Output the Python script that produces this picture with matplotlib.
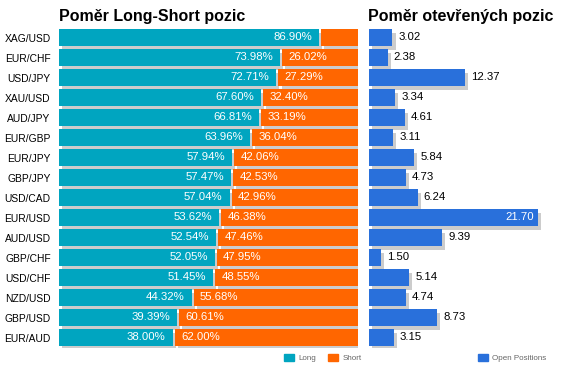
import matplotlib
matplotlib.use("Agg")
import matplotlib.pyplot as plt
import matplotlib.patheffects as pe
from matplotlib.patches import Patch
import numpy as np

plt.rcParams['font.family'] = ['Liberation Sans', 'DejaVu Sans']

# data
pairs = ['XAG/USD', 'EUR/CHF', 'USD/JPY', 'XAU/USD', 'AUD/JPY', 'EUR/GBP', 'EUR/JPY', 'GBP/JPY',
         'USD/CAD', 'EUR/USD', 'AUD/USD', 'GBP/CHF', 'USD/CHF', 'NZD/USD', 'GBP/USD', 'EUR/AUD']
long_pct = [86.90, 73.98, 72.71, 67.60, 66.81, 63.96, 57.94, 57.47,
            57.04, 53.62, 52.54, 52.05, 51.45, 44.32, 39.39, 38.00]
short_pct = [13.10, 26.02, 27.29, 32.40, 33.19, 36.04, 42.06, 42.53,
             42.96, 46.38, 47.46, 47.95, 48.55, 55.68, 60.61, 62.00]
open_pos = [3.02, 2.38, 12.37, 3.34, 4.61, 3.11, 5.84, 4.73,
            6.24, 21.70, 9.39, 1.50, 5.14, 4.74, 8.73, 3.15]

c_long = '#00a5c0'
c_short = '#ff6600'
c_open = '#2970db'
shadow = [pe.SimplePatchShadow(offset=(2.2, -3.0), shadow_rgbFace='#cccccc', alpha=1.0), pe.Normal()]

W, H = 566, 380
fig = plt.figure(figsize=(W / 100, H / 100), dpi=100)

y = np.arange(len(pairs))
top_px, pitch = 27.5, 20.0
ax_h = pitch * len(pairs)
fs = 8.2

# left panel: long/short ratio
ax1 = fig.add_axes([59 / W, 1 - (top_px + ax_h) / H, 299 / W, ax_h / H])
gap = 0.7
ax1.barh(y, np.array(long_pct), height=0.85, color=c_long, path_effects=shadow, zorder=2)
ax1.barh(y, np.array(short_pct) - gap, left=np.array(long_pct) + gap, height=0.85,
         color=c_short, path_effects=shadow, zorder=2)
for i, (l, s) in enumerate(zip(long_pct, short_pct)):
    ax1.text(l - 2.3, i, f'{l:.2f}%', color='white', ha='right', va='center', fontsize=fs, zorder=3)
    if s > 20:
        ax1.text(l + 2.8, i, f'{s:.2f}%', color='white', ha='left', va='center', fontsize=fs, zorder=3)
ax1.set_xlim(0, 100)
ax1.set_ylim(len(pairs) - 0.5, -0.5)
ax1.set_yticks(y)
ax1.set_yticklabels(pairs, fontsize=7.4)
ax1.tick_params(axis='y', length=0, pad=6)
ax1.set_xticks([])
for sp in ax1.spines.values():
    sp.set_visible(False)
ax1.patch.set_visible(False)

# right panel: open positions
scale = 7.78
ax2 = fig.add_axes([369 / W, 1 - (top_px + ax_h) / H, 190 / W, ax_h / H])
ax2.barh(y, open_pos, height=0.85, color=c_open, path_effects=shadow, zorder=2)
xmax = 190 / scale
for i, v in enumerate(open_pos):
    if v > 15:
        ax2.text(v - 0.5, i, f'{v:.2f}', color='white', ha='right', va='center', fontsize=fs, zorder=3)
    else:
        ax2.text(v + 0.8, i, f'{v:.2f}', color='black', ha='left', va='center', fontsize=fs, zorder=3)
ax2.set_xlim(0, xmax)
ax2.set_ylim(len(pairs) - 0.5, -0.5)
ax2.set_xticks([])
ax2.set_yticks([])
for sp in ax2.spines.values():
    sp.set_visible(False)
ax2.patch.set_visible(False)

# titles
fig.text(59 / W, 1 - 17 / H, 'Poměr Long-Short pozic', fontsize=11.5, fontweight='bold', va='center', ha='left')
fig.text(368 / W, 1 - 17 / H, 'Poměr otevřených pozic', fontsize=11.5, fontweight='bold', va='center', ha='left')

# legends
leg_kw = dict(frameon=False, fontsize=5.8, handlelength=1.2, handleheight=0.9, handletextpad=0.6,
              columnspacing=1.5, borderpad=0, borderaxespad=0, labelcolor='#666666')
fig.legend([Patch(color=c_long), Patch(color=c_short)], ['Long', 'Short'], ncol=2,
           loc='center left', bbox_to_anchor=(284 / W, 1 - 358 / H), **leg_kw)
fig.legend([Patch(color=c_open)], ['Open Positions'], ncol=1,
           loc='center left', bbox_to_anchor=(478 / W, 1 - 358 / H), **leg_kw)

fig.savefig('out.png', dpi=100)
